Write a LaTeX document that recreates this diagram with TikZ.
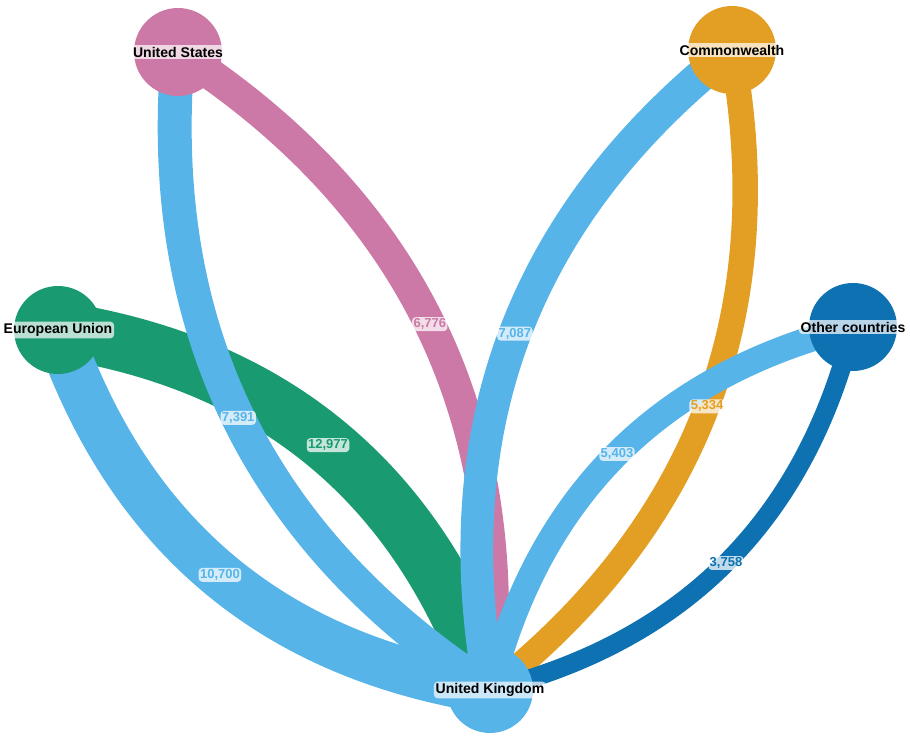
\documentclass[tikz,border=0pt]{standalone}
\usepackage{fontspec}
\setmainfont{Liberation Sans}
\usetikzlibrary{calc}

\definecolor{ukblue}{HTML}{56B4E9}
\definecolor{eugreen}{HTML}{199A70}
\definecolor{uspink}{HTML}{CC79A7}
\definecolor{cworange}{HTML}{E39F24}
\definecolor{othblue}{HTML}{0E72B2}

\pgfdeclarelayer{bg}
\pgfsetlayers{bg,main}

\begin{document}
\begin{tikzpicture}[x=0.02cm, y=0.02cm,
    country/.style={circle, minimum size=1.76cm, inner sep=0pt},
    countryname/.style={font=\fontsize{8}{9}\selectfont\bfseries, fill=white, fill opacity=0.7, text opacity=1, rounded corners=2pt, inner sep=1pt},
    flowvalue/.style={font=\fontsize{7.4}{8}\selectfont\bfseries, fill=white, fill opacity=0.75, text opacity=1, rounded corners=2pt, inner sep=0.8pt}]
    \useasboundingbox (0,0) rectangle (910,736);

    % countries
    \node[country, fill=uspink, label={[countryname]center:United States}] (us) at (178,684) {};
    \node[country, fill=cworange, label={[countryname]center:Commonwealth}] (cw) at (732,686) {};
    \node[country, fill=eugreen, label={[countryname]center:European Union}] (eu) at (58,406) {};
    \node[country, fill=othblue, label={[countryname]center:Other countries}] (oth) at (853,409) {};
    \node[country, fill=ukblue, minimum size=1.72cm, label={[countryname]center:United Kingdom}] (uk) at (490,46) {};

    \begin{pgfonlayer}{bg}
        % flows into the UK
        \draw[eugreen, line width=32.42pt] (eu.center) .. controls ($(eu.center)!0.3887!31:(uk.center)$) and ($(uk.center)!0.3887!-31:(eu.center)$) .. (uk.center) coordinate[pos=0.5] (eu-uk);
        \draw[uspink, line width=17.88pt] (us.center) .. controls ($(us.center)!0.3887!31:(uk.center)$) and ($(uk.center)!0.3887!-31:(us.center)$) .. (uk.center) coordinate[pos=0.5] (us-uk);
        \draw[cworange, line width=14.50pt] (cw.center) .. controls ($(cw.center)!0.3887!31:(uk.center)$) and ($(uk.center)!0.3887!-31:(cw.center)$) .. (uk.center) coordinate[pos=0.5] (cw-uk);
        \draw[othblue, line width=10.80pt] (oth.center) .. controls ($(oth.center)!0.3887!31:(uk.center)$) and ($(uk.center)!0.3887!-31:(oth.center)$) .. (uk.center) coordinate[pos=0.5] (oth-uk);

        % flows out of the UK
        \draw[ukblue, line width=27.08pt] (uk.center) .. controls ($(uk.center)!0.3887!31:(eu.center)$) and ($(eu.center)!0.3887!-31:(uk.center)$) .. (eu.center) coordinate[pos=0.5] (uk-eu);
        \draw[ukblue, line width=19.32pt] (uk.center) .. controls ($(uk.center)!0.3887!31:(us.center)$) and ($(us.center)!0.3887!-31:(uk.center)$) .. (us.center) coordinate[pos=0.5] (uk-us);
        \draw[ukblue, line width=18.61pt] (uk.center) .. controls ($(uk.center)!0.3887!31:(cw.center)$) and ($(cw.center)!0.3887!-31:(uk.center)$) .. (cw.center) coordinate[pos=0.5] (uk-cw);
        \draw[ukblue, line width=14.66pt] (uk.center) .. controls ($(uk.center)!0.3887!31:(oth.center)$) and ($(oth.center)!0.3887!-31:(uk.center)$) .. (oth.center) coordinate[pos=0.5] (uk-oth);
    \end{pgfonlayer}

    % values
    \node[flowvalue, text=eugreen] at (eu-uk) {12,977};
    \node[flowvalue, text=uspink] at (us-uk) {6,776};
    \node[flowvalue, text=cworange] at (cw-uk) {5,334};
    \node[flowvalue, text=othblue] at (oth-uk) {3,758};
    \node[flowvalue, text=ukblue] at (uk-eu) {10,700};
    \node[flowvalue, text=ukblue] at (uk-us) {7,391};
    \node[flowvalue, text=ukblue] at (uk-cw) {7,087};
    \node[flowvalue, text=ukblue] at (uk-oth) {5,403};
\end{tikzpicture}
\end{document}
